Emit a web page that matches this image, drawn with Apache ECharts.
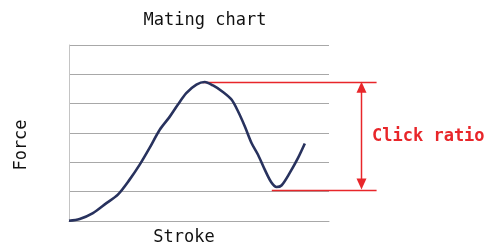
<!DOCTYPE html>
<html>
<head>
<meta charset="utf-8">
<script src="https://cdn.jsdelivr.net/npm/echarts@6/dist/echarts.min.js"></script>
<style>
  html, body { margin: 0; padding: 0; background: #fff; }
  #chart { width: 498px; height: 252px; }
</style>
</head>
<body>
<div id="chart"></div>
<script>
// stroke position (0..100 of the axis) and force (grid units 0..6)
var stroke = [0, 4.1, 9.2, 14.4, 18.8, 23.3, 27.2, 31, 34.9, 38.7, 41.9, 45.1, 49, 52.2,
              55.4, 59.2, 62.5, 65, 67.6, 70.2, 72.7, 75.3, 77.8, 79.8, 81.7, 84.9, 88.1, 90.7];
var force  = [0.01, 0.07, 0.27, 0.61, 0.9, 1.41, 1.92, 2.49, 3.11, 3.55, 3.97, 4.36, 4.65, 4.74,
              4.62, 4.4, 4.14, 3.74, 3.23, 2.66, 2.26, 1.75, 1.32, 1.16, 1.21, 1.64, 2.15, 2.64];

// click ratio marker: levels, where each red line starts, where they end
var clickLevels = [4.75, 1.07];
var clickStart = [51.4, 78.0];
var clickEnd = 118.3;
var arrowX = 112.2;

var red = '#e8262a';
var mono = '"DejaVu Sans Mono", "Liberation Mono", monospace';

var chart = echarts.init(document.getElementById('chart'));

var option = {
    animation: false,
    title: {
        text: 'Mating chart',
        left: 200,
        top: 7,
        textAlign: 'center',
        textStyle: {fontFamily: mono, fontSize: 17, fontWeight: 'normal', color: '#111'}
    },
    grid: {left: 69, right: 169, top: 45, bottom: 31},
    xAxis: {
        type: 'value',
        min: 0,
        max: 100,
        axisLine: {show: true, lineStyle: {color: '#a8a8a8'}},
        axisTick: {show: false},
        axisLabel: {show: false},
        splitLine: {show: false}
    },
    yAxis: {
        type: 'value',
        min: 0,
        max: 6,
        interval: 1,
        axisLine: {show: true, lineStyle: {color: '#c4c4c4'}},
        axisTick: {show: false},
        axisLabel: {show: false},
        splitLine: {lineStyle: {color: '#a8a8a8', width: 1}}
    },
    series: [
        {
            type: 'line',
            smooth: 0.3,
            symbol: 'none',
            lineStyle: {color: '#28325e', width: 2.6},
            data: stroke.map(function (s, i) { return [s, force[i]]; })
        }
    ]
};
chart.setOption(option);

function px(x, y) {
    return chart.convertToPixel({gridIndex: 0}, [x, y]);
}

var graphics = [];
clickLevels.forEach(function (lv, i) {
    var a = px(clickStart[i], lv), b = px(clickEnd, lv);
    graphics.push({
        type: 'line',
        shape: {x1: a[0], y1: Math.round(a[1]) + 0.5, x2: b[0], y2: Math.round(b[1]) + 0.5},
        style: {stroke: red, lineWidth: 1.5}
    });
});
var pTop = px(arrowX, clickLevels[0]), pBot = px(arrowX, clickLevels[1]);
var ax = Math.round(pTop[0]) + 0.5;
graphics.push({
    type: 'line',
    shape: {x1: ax, y1: pTop[1] + 8, x2: ax, y2: pBot[1] - 8},
    style: {stroke: red, lineWidth: 1.5}
});
graphics.push({
    type: 'polygon',
    shape: {points: [[ax, pTop[1]], [ax - 5, pTop[1] + 11], [ax + 5, pTop[1] + 11]]},
    style: {fill: red}
});
graphics.push({
    type: 'polygon',
    shape: {points: [[ax, pBot[1]], [ax - 5, pBot[1] - 11], [ax + 5, pBot[1] - 11]]},
    style: {fill: red}
});
graphics.push({
    type: 'text',
    x: 372,
    y: (pTop[1] + pBot[1]) / 2 + 1,
    style: {text: 'Click ratio', fill: red, font: 'bold 17px ' + mono, verticalAlign: 'middle'}
});
graphics.push({
    type: 'text',
    x: 184,
    y: 238,
    style: {text: 'Stroke', fill: '#111', font: '17px ' + mono, align: 'center', verticalAlign: 'middle'}
});
graphics.push({
    type: 'text',
    x: 22,
    y: 145,
    rotation: Math.PI / 2,
    style: {text: 'Force', fill: '#111', font: '17px ' + mono, align: 'center', verticalAlign: 'middle'}
});
chart.setOption({graphic: graphics});
</script>
</body>
</html>
